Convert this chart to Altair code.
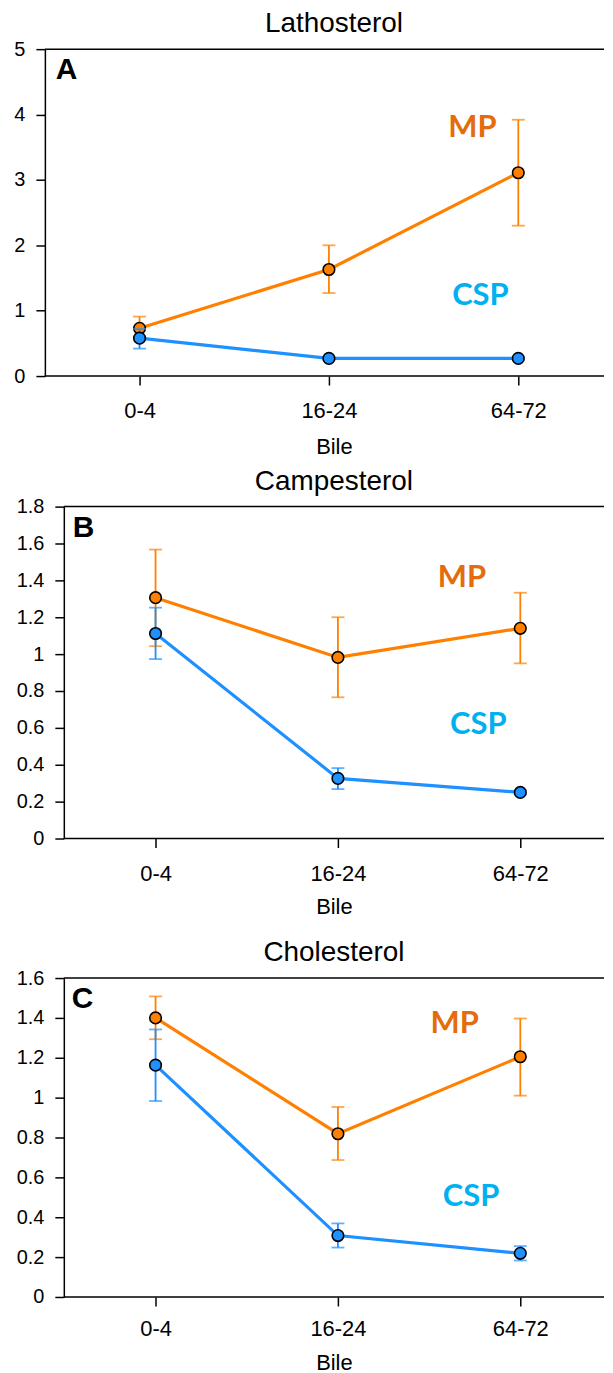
import altair as alt
import pandas as pd

x_pos = [0, 1, 2]
x_labels = ["0-4", "16-24", "64-72"]

# Panel A - Lathosterol
a_mp = [0.73, 1.63, 3.11]
a_mp_lo = [0.56, 1.27, 2.30]
a_mp_hi = [0.91, 2.00, 3.92]
a_csp = [0.58, 0.27, 0.27]
a_csp_lo = [0.42, 0.25, 0.25]
a_csp_hi = [0.72, 0.29, 0.29]

# Panel B - Campesterol
b_mp = [1.306, 0.982, 1.14]
b_mp_lo = [1.043, 0.766, 0.95]
b_mp_hi = [1.567, 1.20, 1.333]
b_csp = [1.112, 0.326, 0.25]
b_csp_lo = [0.973, 0.268, 0.24]
b_csp_hi = [1.252, 0.382, 0.26]

# Panel C - Cholesterol
c_mp = [1.40, 0.819, 1.205]
c_mp_lo = [1.293, 0.687, 1.01]
c_mp_hi = [1.508, 0.953, 1.397]
c_csp = [1.163, 0.308, 0.219]
c_csp_lo = [0.983, 0.248, 0.183]
c_csp_hi = [1.342, 0.369, 0.255]

MP_LINE = "#FF8000"
CSP_LINE = "#1E90FF"
MP_TEXT = "#E46C0A"
CSP_TEXT = "#00B0F0"

label_expr = "datum.value == 0 ? '0-4' : datum.value == 1 ? '16-24' : '64-72'"


def panel(title, letter, mp, mp_lo, mp_hi, csp, csp_lo, csp_hi, ymax, ystep,
          mp_txt, csp_txt, xdom, width, height, yoff, letx,
          lab_pad=16, title_pad=15, extra_bottom=None):
    rows = []
    for grp, m, lo, hi in (("MP", mp, mp_lo, mp_hi), ("CSP", csp, csp_lo, csp_hi)):
        for i in range(3):
            rows.append({"x": x_pos[i], "label": x_labels[i], "group": grp,
                         "mean": m[i], "lo": lo[i], "hi": hi[i]})
    df = pd.DataFrame(rows)
    nt = int(round(ymax / ystep))
    yvals = [round(k * ystep, 2) for k in range(nt + 1)]
    xscale = alt.Scale(domain=xdom, nice=False, zero=False)
    xaxis = alt.Axis(values=x_pos, labelExpr=label_expr, title="Bile",
                     grid=False, tickSize=9, labelPadding=lab_pad,
                     titlePadding=title_pad, domain=False)
    yscale = alt.Scale(domain=[0, ymax], nice=False)
    yaxis = alt.Axis(values=yvals, title=None, grid=False, tickSize=9,
                     labelPadding=11, format="~g", labelOverlap=False,
                     offset=yoff)

    def X(f):
        return alt.X(f, scale=xscale, axis=xaxis)

    def Y(f):
        return alt.Y(f, scale=yscale, axis=yaxis)

    colors = alt.Color("group:N", scale=alt.Scale(domain=["MP", "CSP"],
                                                   range=[MP_LINE, CSP_LINE]),
                       legend=None)
    layers = []
    for grp in ("MP", "CSP"):
        d = alt.Chart(df).transform_filter(alt.datum.group == grp)
        rule = d.mark_rule(strokeWidth=1.8).encode(
            x=X("x:Q"), y=Y("lo:Q"), y2="hi:Q", color=colors)
        cap_lo = d.mark_tick(orient="horizontal", size=13, thickness=1.8).encode(
            x=X("x:Q"), y=Y("lo:Q"), color=colors)
        cap_hi = d.mark_tick(orient="horizontal", size=13, thickness=1.8).encode(
            x=X("x:Q"), y=Y("hi:Q"), color=colors)
        line = d.mark_line(strokeWidth=3.2).encode(
            x=X("x:Q"), y=Y("mean:Q"), color=colors)
        pts = d.mark_point(filled=True, size=135, opacity=1, stroke="black",
                           strokeWidth=1.6).encode(
            x=X("x:Q"), y=Y("mean:Q"), fill=colors)
        layers += [rule, cap_lo, cap_hi, line, pts]

    tdf = pd.DataFrame([
        {"x": mp_txt[0], "y": mp_txt[1], "t": "MP", "c": MP_TEXT},
        {"x": csp_txt[0], "y": csp_txt[1], "t": "CSP", "c": CSP_TEXT},
    ])
    txt = alt.Chart(tdf).mark_text(font="Lato", fontWeight="bold", fontSize=31,
                                   align="center", baseline="middle").encode(
        x=X("x:Q"), y=Y("y:Q"), text="t:N",
        color=alt.Color("c:N", scale=None))
    let_df = pd.DataFrame({"t": [letter]})
    let = alt.Chart(let_df).mark_text(font="Liberation Sans", fontWeight="bold",
                                      fontSize=30, align="left",
                                      baseline="middle").encode(
        x=alt.value(letx), y=alt.value(21), text="t:N", color=alt.value("black"))
    # frame lines (top border and bottom axis line)
    top = alt.Chart(let_df).mark_rule(color="black", strokeWidth=1.5).encode(
        x=alt.value(-yoff), x2=alt.value(width), y=alt.value(0))
    bottom = alt.Chart(let_df).mark_rule(color="black", strokeWidth=1.5).encode(
        x=alt.value(-yoff), x2=alt.value(width), y=alt.value(height))
    parts = [*layers, txt, let, top, bottom]
    if extra_bottom is not None:
        # invisible spacer that extends the panel's bounds downward
        spacer = alt.Chart(let_df).mark_rule(opacity=0, strokeOpacity=0).encode(
            x=alt.value(0), x2=alt.value(1), y=alt.value(height + extra_bottom))
        parts.append(spacer)
    return alt.layer(*parts).properties(
        width=width, height=height,
        title=alt.TitleParams(title, fontSize=28, font="Liberation Sans",
                              fontWeight="normal", offset=1))


pa = panel("Lathosterol", "A", a_mp, a_mp_lo, a_mp_hi, a_csp, a_csp_lo, a_csp_hi,
           5, 1, (1.758, 3.80), (1.80, 1.22), [-0.4, 2.4526], 542, 328, 19, -8)
pb = panel("Campesterol", "B", b_mp, b_mp_lo, b_mp_hi, b_csp, b_csp_lo, b_csp_hi,
           1.8, 0.2, (1.68, 1.413), (1.77, 0.616), [-0.503, 2.459], 542, 333, 0, 9,
           lab_pad=16, title_pad=12, extra_bottom=91)
pc = panel("Cholesterol", "C", c_mp, c_mp_lo, c_mp_hi, c_csp, c_csp_lo, c_csp_hi,
           1.6, 0.2, (1.64, 1.37), (1.73, 0.50), [-0.503, 2.459], 542, 320, 0, 8,
           lab_pad=13, title_pad=13)

chart = alt.vconcat(pa, pb, pc, spacing=10).properties(
    padding={"left": 5, "top": 0, "right": 0, "bottom": 0}
).configure_view(stroke=None).configure_axis(
    labelFont="Liberation Sans", titleFont="Liberation Sans", labelFontSize=20,
    titleFontSize=22, titleFontWeight="normal", labelColor="black",
    titleColor="black", domainColor="black", tickColor="black",
    domainWidth=1.5, tickWidth=1.5
).configure_axisX(labelFontSize=22)

chart.save("out.html", embed_options={"renderer": "svg", "actions": False})
